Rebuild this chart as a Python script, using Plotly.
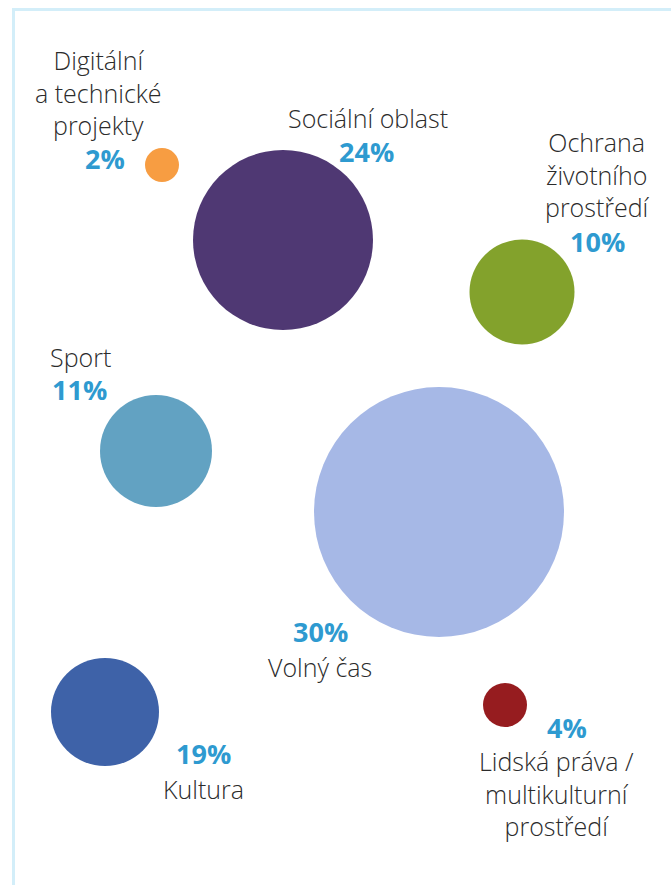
import plotly.graph_objects as go

# ---- data ----
categories = ["Digitální a technické projekty", "Sociální oblast", "Ochrana životního prostředí",
              "Sport", "Volný čas", "Kultura", "Lidská práva / multikulturní prostředí"]
label_lines = ["Digitální<br>a technické<br>projekty", "Sociální oblast", "Ochrana<br>životního<br>prostředí",
               "Sport", "Volný čas", "Kultura", "Lidská práva /<br>multikulturní<br>prostředí"]
percent = [2, 24, 10, 11, 30, 19, 4]
bubble_x = [162, 283, 522, 156, 439, 105, 505]
bubble_y = [165, 240, 292, 451, 512, 712, 705]
bubble_size = [34, 180, 105, 112, 250, 108, 44]

# ---- styles / layout ----
colors = ["#F79D42", "#4F3873", "#83A22C", "#62A2C2", "#A6B8E6", "#3E62A8", "#961C1F"]
FONT = "Open Sans"
TXT = "#2b2b2b"
PCT = "#2E9AD0"

name_pos = [(98, 92), (368, 118), (597, 174), (80, 357), (320, 667), (203, 789), (556, 793)]
pct_pos = [(105, 158), (366, 151), (597, 241), (79, 389), (320, 631), (203, 753), (567, 727)]

fig = go.Figure()
fig.add_trace(go.Scatter(
    x=bubble_x, y=bubble_y, mode="markers",
    marker=dict(size=bubble_size, sizemode="diameter", sizeref=1, color=colors,
                opacity=1, line=dict(width=0)),
    text=categories, hoverinfo="text", showlegend=False,
))

annotations = []
for i in range(len(categories)):
    nx, ny = name_pos[i]
    px, py = pct_pos[i]
    annotations.append(dict(x=nx, y=ny, text=label_lines[i], showarrow=False,
                            xref="x", yref="y", xanchor="center", yanchor="middle",
                            align="center", font=dict(family=FONT, size=25, weight=300, color=TXT)))
    annotations.append(dict(x=px, y=py, text=f"<b>{percent[i]}%</b>", showarrow=False,
                            xref="x", yref="y", xanchor="center", yanchor="middle",
                            font=dict(family=FONT, size=27, color=PCT)))

shapes = [
    dict(type="line", xref="x", yref="y", x0=13.5, x1=13.5, y0=9, y1=885,
         line=dict(color="#D3EEF9", width=3)),
    dict(type="line", xref="x", yref="y", x0=12, x1=671, y0=9.5, y1=9.5,
         line=dict(color="#D3EEF9", width=3)),
]

fig.update_layout(
    width=671, height=885, margin=dict(l=0, r=0, t=0, b=0),
    paper_bgcolor="white", plot_bgcolor="white",
    xaxis=dict(range=[0, 671], visible=False, fixedrange=True),
    yaxis=dict(range=[885, 0], visible=False, fixedrange=True),
    annotations=annotations, shapes=shapes,
)

fig.write_html("out.html")
